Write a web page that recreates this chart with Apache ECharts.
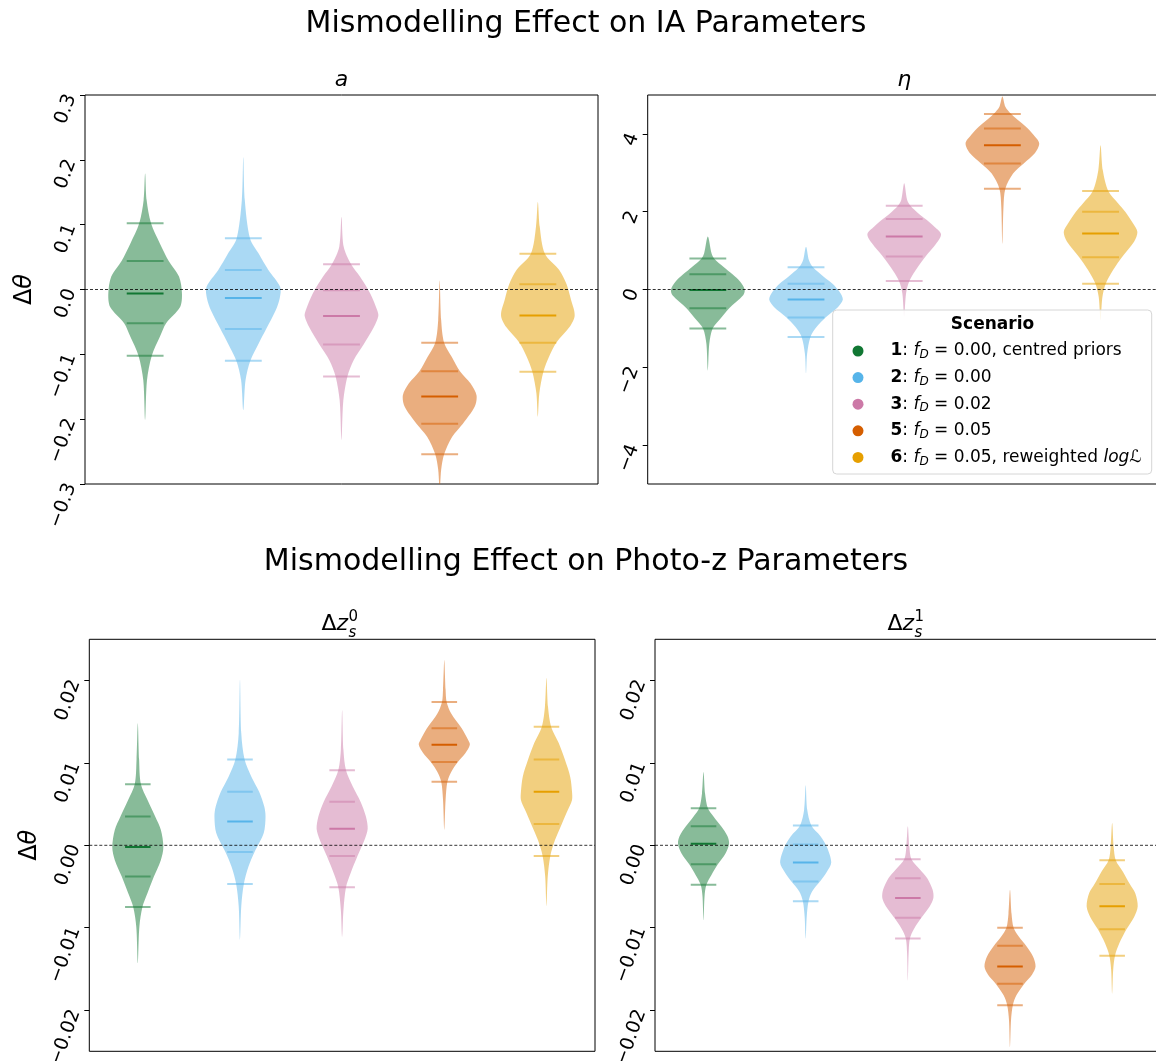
<!DOCTYPE html>
<html><head><meta charset="utf-8">
<script src="https://cdn.jsdelivr.net/npm/echarts@6/dist/echarts.min.js"></script>
<style>html,body{margin:0;padding:0;background:#fff}#c{width:1156px;height:1061px}</style>
</head><body><div id="c"></div>
<script>
// ---------- data ----------
const scenarioNames = ['Scenario 1', 'Scenario 2', 'Scenario 3', 'Scenario 5', 'Scenario 6'];
const legendLabels = [
  '{g|}{b|1}: {i|f}{sub|D} = 0.00, centred priors',
  '{g|}{b|2}: {i|f}{sub|D} = 0.00',
  '{g|}{b|3}: {i|f}{sub|D} = 0.02',
  '{g|}{b|5}: {i|f}{sub|D} = 0.05',
  '{g|}{b|6}: {i|f}{sub|D} = 0.05, reweighted {i|logℒ}'
];
const colors = ['#117733', '#56B4E9', '#CC79A7', '#D55E00', '#E69F00'];
const positions = [1, 2, 3, 4, 5];

// tick values / labels
const ticksA = [-0.3, -0.2, -0.1, 0, 0.1, 0.2, 0.3];
const tickLabelsA = ['−0.3', '−0.2', '−0.1', '0.0', '0.1', '0.2', '0.3'];
const ticksEta = [-4, -2, 0, 2, 4];
const tickLabelsEta = ['−4', '−2', '0', '2', '4'];
const ticksZ = [-0.02, -0.01, 0, 0.01, 0.02];
const tickLabelsZ = ['−0.02', '−0.01', '0.00', '0.01', '0.02'];

// quantile lines per scenario (top to bottom; middle one is the median)
const quantA = [
  [0.102, 0.044, -0.006, -0.052, -0.102],
  [0.079, 0.030, -0.013, -0.061, -0.110],
  [0.039, -0.001, -0.041, -0.085, -0.134],
  [-0.082, -0.126, -0.165, -0.207, -0.254],
  [0.055, 0.008, -0.040, -0.082, -0.127]
];
// violin outlines: [value, relative half width]
const profA = [
  [[0.179,0],[0.138,0.04],[0.102,0.16],[0.071,0.40],[0.044,0.64],[0.020,0.92],[-0.006,1.0],[-0.027,0.95],[-0.052,0.57],[-0.073,0.40],[-0.102,0.18],[-0.140,0.05],[-0.201,0]],
  [[0.204,0],[0.138,0.04],[0.079,0.18],[0.055,0.42],[0.030,0.68],[0.004,1.0],[-0.013,0.99],[-0.032,0.88],[-0.061,0.62],[-0.083,0.42],[-0.110,0.19],[-0.140,0.06],[-0.186,0]],
  [[0.112,0],[0.066,0.06],[0.039,0.26],[0.020,0.5],[-0.006,0.78],[-0.032,0.97],[-0.041,1.0],[-0.058,0.88],[-0.085,0.6],[-0.109,0.33],[-0.134,0.16],[-0.171,0.05],[-0.232,0]],
  [[0.014,0],[-0.047,0.04],[-0.082,0.12],[-0.104,0.33],[-0.126,0.55],[-0.145,0.84],[-0.163,1.0],[-0.181,0.95],[-0.207,0.63],[-0.227,0.34],[-0.254,0.12],[-0.278,0.04],[-0.31,0]],
  [[0.135,0],[0.097,0.05],[0.055,0.19],[0.030,0.58],[0.008,0.78],[-0.016,0.9],[-0.040,1.0],[-0.058,0.86],[-0.082,0.5],[-0.104,0.3],[-0.127,0.15],[-0.160,0.04],[-0.196,0]]
];

const quantEta = [
  [0.80, 0.39, -0.01, -0.48, -1.0],
  [0.57, 0.15, -0.26, -0.72, -1.22],
  [2.15, 1.81, 1.36, 0.85, 0.22],
  [4.51, 4.14, 3.71, 3.24, 2.59],
  [2.53, 2.0, 1.44, 0.83, 0.15]
];
const profEta = [
  [[1.36,0],[0.93,0.1],[0.80,0.17],[0.58,0.43],[0.39,0.67],[0.20,0.88],[0.0,1.0],[-0.15,0.96],[-0.48,0.58],[-0.75,0.34],[-1.0,0.13],[-1.39,0.04],[-2.08,0]],
  [[1.10,0],[0.75,0.08],[0.57,0.19],[0.33,0.48],[0.15,0.72],[-0.06,0.91],[-0.26,1.0],[-0.45,0.87],[-0.72,0.53],[-0.96,0.29],[-1.22,0.12],[-1.65,0.03],[-2.16,0]],
  [[2.73,0],[2.30,0.08],[2.15,0.17],[1.96,0.38],[1.81,0.58],[1.61,0.82],[1.42,1.0],[1.18,0.87],[0.85,0.58],[0.58,0.37],[0.22,0.14],[-0.10,0.05],[-0.70,0]],
  [[4.96,0],[4.70,0.08],[4.51,0.24],[4.31,0.48],[4.14,0.69],[3.97,0.85],[3.76,1.0],[3.50,0.88],[3.24,0.58],[2.98,0.29],[2.59,0.08],[2.13,0.03],[1.18,0]],
  [[3.71,0],[3.07,0.06],[2.53,0.21],[2.21,0.48],[2.0,0.67],[1.70,0.88],[1.48,1.0],[1.23,0.91],[0.83,0.58],[0.50,0.34],[0.15,0.14],[-0.19,0.05],[-0.79,0]]
];

const quantZ0 = [
  [0.0074, 0.0035, -0.0002, -0.0038, -0.0075],
  [0.0104, 0.0065, 0.0029, -0.0008, -0.0047],
  [0.0091, 0.0053, 0.0020, -0.0013, -0.0051],
  [0.0174, 0.0142, 0.0122, 0.0101, 0.0077],
  [0.0144, 0.0104, 0.0065, 0.0026, -0.0013]
];
const profZ0 = [
  [[0.0148,0],[0.0104,0.05],[0.0074,0.12],[0.0055,0.38],[0.0035,0.68],[0.0019,0.9],[-0.0002,1.0],[-0.0018,0.9],[-0.0038,0.63],[-0.0058,0.38],[-0.0075,0.18],[-0.0099,0.06],[-0.0143,0]],
  [[0.0201,0],[0.0136,0.05],[0.0104,0.18],[0.0083,0.45],[0.0065,0.75],[0.0047,0.95],[0.0035,1.0],[0.0015,0.93],[-0.0008,0.57],[-0.0026,0.33],[-0.0047,0.15],[-0.0074,0.05],[-0.0115,0]],
  [[0.0164,0],[0.0116,0.05],[0.0091,0.15],[0.0071,0.42],[0.0053,0.72],[0.0035,0.93],[0.0020,1.0],[0.0006,0.87],[-0.0013,0.6],[-0.0034,0.33],[-0.0051,0.15],[-0.0079,0.05],[-0.0111,0]],
  [[0.0225,0],[0.0189,0.05],[0.0174,0.09],[0.0160,0.27],[0.0142,0.68],[0.0128,0.93],[0.0122,1.0],[0.0112,0.83],[0.0101,0.53],[0.0089,0.27],[0.0077,0.12],[0.0055,0.05],[0.0019,0]],
  [[0.0203,0],[0.0168,0.06],[0.0144,0.18],[0.0124,0.48],[0.0104,0.72],[0.0083,0.93],[0.0065,1.0],[0.0055,1.0],[0.0043,0.84],[0.0026,0.6],[0.0006,0.33],[-0.0013,0.15],[-0.0038,0.05],[-0.0074,0]]
];

const quantZ1 = [
  [0.0045, 0.0023, 0.0002, -0.0023, -0.0048],
  [0.0024, 0.0001, -0.0021, -0.0044, -0.0068],
  [-0.0017, -0.0040, -0.0064, -0.0088, -0.0113],
  [-0.0100, -0.0122, -0.0147, -0.0168, -0.0194],
  [-0.0018, -0.0047, -0.0074, -0.0102, -0.0134]
];
const profZ1 = [
  [[0.0089,0],[0.0063,0.06],[0.0045,0.17],[0.0035,0.39],[0.0023,0.69],[0.0011,0.94],[0.0002,1.0],[-0.0010,0.86],[-0.0023,0.56],[-0.0036,0.31],[-0.0048,0.11],[-0.0062,0.04],[-0.0091,0]],
  [[0.0073,0],[0.0043,0.06],[0.0024,0.22],[0.0011,0.58],[-0.0002,0.83],[-0.0021,1.0],[-0.0032,0.83],[-0.0044,0.56],[-0.0056,0.25],[-0.0068,0.11],[-0.0087,0.04],[-0.0113,0]],
  [[0.0023,0],[-0.0002,0.06],[-0.0017,0.14],[-0.0030,0.49],[-0.0040,0.76],[-0.0054,0.97],[-0.0064,1.0],[-0.0074,0.86],[-0.0088,0.53],[-0.0101,0.25],[-0.0113,0.08],[-0.0131,0.03],[-0.0164,0]],
  [[-0.0054,0],[-0.0083,0.06],[-0.0100,0.14],[-0.0111,0.35],[-0.0122,0.63],[-0.0135,0.9],[-0.0147,1.0],[-0.0157,0.86],[-0.0168,0.56],[-0.0182,0.25],[-0.0194,0.11],[-0.0212,0.04],[-0.0245,0]],
  [[0.0027,0],[-0.0002,0.06],[-0.0018,0.14],[-0.0032,0.42],[-0.0047,0.69],[-0.0058,0.9],[-0.0074,1.0],[-0.0087,0.86],[-0.0102,0.56],[-0.0119,0.28],[-0.0134,0.11],[-0.0151,0.04],[-0.0180,0]]
];

// ---------- layout ----------
const FONT = 'DejaVu Sans';
const panels = [
  {grid:{left:85, top:95, width:513, height:389}, x:[0.3875,5.6125], y:[-0.3,0.3], ticks:ticksA, labels:tickLabelsA, prof:profA, quant:quantA, hw:0.375},
  {grid:{left:647.7, top:95, width:513, height:389}, x:[0.3875,5.6125], y:[-5,5], ticks:ticksEta, labels:tickLabelsEta, prof:profEta, quant:quantEta, hw:0.375},
  {grid:{left:89.3, top:639.3, width:505.7, height:412}, x:[0.525,5.475], y:[-0.025,0.025], ticks:ticksZ, labels:tickLabelsZ, prof:profZ0, quant:quantZ0, hw:0.25},
  {grid:{left:655, top:639.3, width:505.7, height:412}, x:[0.525,5.475], y:[-0.025,0.025], ticks:ticksZ, labels:tickLabelsZ, prof:profZ1, quant:quantZ1, hw:0.25}
];

function violinRenderer(profile, quant, hw, color) {
  return function (params, api) {
    const x0 = api.value(0);
    const right = profile.map(p => api.coord([x0 + p[1] * hw, p[0]]));
    const left = profile.slice(1, -1).reverse().map(p => api.coord([x0 - p[1] * hw, p[0]]));
    const children = [{
      type: 'polygon',
      shape: {points: right.concat(left), smooth: 0.3},
      style: {fill: color, opacity: 0.5}
    }];
    const lh = hw * 0.5;
    quant.forEach((q, i) => {
      const a = api.coord([x0 - lh, q]), b = api.coord([x0 + lh, q]);
      children.push({
        type: 'line',
        shape: {x1: a[0], y1: a[1], x2: b[0], y2: b[1]},
        style: {stroke: color, lineWidth: 2, opacity: i === 2 ? 1 : 0.5}
      });
    });
    return {type: 'group', children};
  };
}

const grids = [], xAxes = [], yAxes = [], series = [];
panels.forEach((p, k) => {
  grids.push(Object.assign({show: true, borderColor: '#000', borderWidth: 1, containLabel: false,
    outerBoundsMode: 'none'}, p.grid));
  xAxes.push({type: 'value', gridIndex: k, min: p.x[0], max: p.x[1],
    axisLine: {show: false, onZero: false}, axisTick: {show: false},
    axisLabel: {show: false}, splitLine: {show: false}});
  const y = {type: 'value', gridIndex: k, min: p.y[0], max: p.y[1],
    axisLine: {show: false, onZero: false},
    axisTick: {show: true, length: 5, lineStyle: {color: '#000'}, customValues: p.ticks},
    axisLabel: {show: true, rotate: 70, margin: 14, fontSize: 19, fontFamily: FONT, color: '#000',
      customValues: p.ticks, formatter: v => p.labels[p.ticks.indexOf(v)] ?? ''},
    splitLine: {show: false}};
  if (k === 0 || k === 2) {
    y.name = '{n|Δ}{i|θ}';
    y.nameLocation = 'middle';
    y.nameRotate = 90;
    y.nameGap = 48;
    y.nameTextStyle = {rich: {n: {fontSize: 24, fontFamily: FONT, color: '#000'},
      i: {fontSize: 24, fontFamily: FONT, fontStyle: 'italic', color: '#000'}}};
  }
  yAxes.push(y);
  p.prof.forEach((prof, s) => {
    series.push({
      type: 'custom', name: scenarioNames[s], xAxisIndex: k, yAxisIndex: k,
      clip: true, silent: true, z: 2,
      itemStyle: {color: colors[s]},
      data: [[positions[s], p.quant[s][2]]],
      encode: {x: 0, y: 1},
      renderItem: violinRenderer(prof, p.quant[s], p.hw, colors[s])
    });
  });
  series.push({
    type: 'line', name: 'zero', xAxisIndex: k, yAxisIndex: k, silent: true, z: 10,
    symbol: 'none', data: [[p.x[0], 0], [p.x[1], 0]],
    lineStyle: {color: '#000', width: 0.8, type: [3, 2]}
  });
});

const labelMap = {};
scenarioNames.forEach((n, i) => labelMap[n] = legendLabels[i]);

const subTitle = (cx, sup) => ({
  type: 'group', children: [
    {type: 'text', x: cx - 20.5, y: 624, style: {text: '{n|Δ}{i|z}', verticalAlign: 'middle', align: 'left',
      rich: {n: {fontSize: 22, fontFamily: FONT, fill: '#000'}, i: {fontSize: 22, fontFamily: FONT, fontStyle: 'italic', fill: '#000'}}}},
    {type: 'text', x: cx + 6.5, y: 617, style: {text: sup, fontSize: 15, fontFamily: FONT, fill: '#000', verticalAlign: 'middle'}},
    {type: 'text', x: cx + 6.5, y: 633, style: {text: 's', fontSize: 15, fontFamily: FONT, fontStyle: 'italic', fill: '#000', verticalAlign: 'middle'}}
  ]
});

const option = {
  animation: false,
  backgroundColor: '#fff',
  title: [
    {text: 'Mismodelling Effect on IA Parameters', left: 586, top: 7, textAlign: 'center', padding: 0,
      textStyle: {fontSize: 30, fontWeight: 'normal', fontFamily: FONT, color: '#000', lineHeight: 34}},
    {text: 'Mismodelling Effect on Photo-z Parameters', left: 586, top: 545, textAlign: 'center', padding: 0,
      textStyle: {fontSize: 30, fontWeight: 'normal', fontFamily: FONT, color: '#000', lineHeight: 34}}
  ],
  grid: grids, xAxis: xAxes, yAxis: yAxes, series: series,
  legend: {
    data: scenarioNames, orient: 'vertical', left: 852.5, top: 341, padding: 0,
    icon: 'circle', itemWidth: 11, itemHeight: 11, itemGap: 6.6, selectedMode: false,
    formatter: name => labelMap[name],
    textStyle: {fontSize: 17, fontFamily: FONT, color: '#000', lineHeight: 20,
      rich: {
        g: {width: 22, fontSize: 17, lineHeight: 20},
        b: {fontWeight: 'bold', fontSize: 17, fontFamily: FONT, color: '#000', lineHeight: 20},
        i: {fontStyle: 'italic', fontSize: 17, fontFamily: FONT, color: '#000', lineHeight: 20},
        sub: {fontStyle: 'italic', fontSize: 12, fontFamily: FONT, color: '#000', lineHeight: 20, verticalAlign: 'bottom'}
      }}
  },
  graphic: [
    {type: 'rect', z: 3, shape: {x: 832.7, y: 310, width: 319, height: 164, r: 4},
      style: {fill: 'rgba(255,255,255,0.85)', stroke: '#d6d6d6', lineWidth: 1}},
    {type: 'text', z: 5, x: 992.5, y: 324.5, style: {text: 'Scenario', fontSize: 17, fontWeight: 'bold', fontFamily: FONT, fill: '#000', align: 'center', verticalAlign: 'middle'}},
    {type: 'text', x: 341.5, y: 80.5, style: {text: 'a', fontSize: 22, fontStyle: 'italic', fontFamily: FONT, fill: '#000', align: 'center', verticalAlign: 'middle'}},
    {type: 'text', x: 904.2, y: 80.5, style: {text: 'η', fontSize: 22, fontStyle: 'italic', fontFamily: FONT, fill: '#000', align: 'center', verticalAlign: 'middle'}},
    subTitle(342, '0'),
    subTitle(908, '1')
  ]
};

const chart = echarts.init(document.getElementById('c'), null, {renderer: 'canvas'});
chart.setOption(option);
</script>
</body></html>
